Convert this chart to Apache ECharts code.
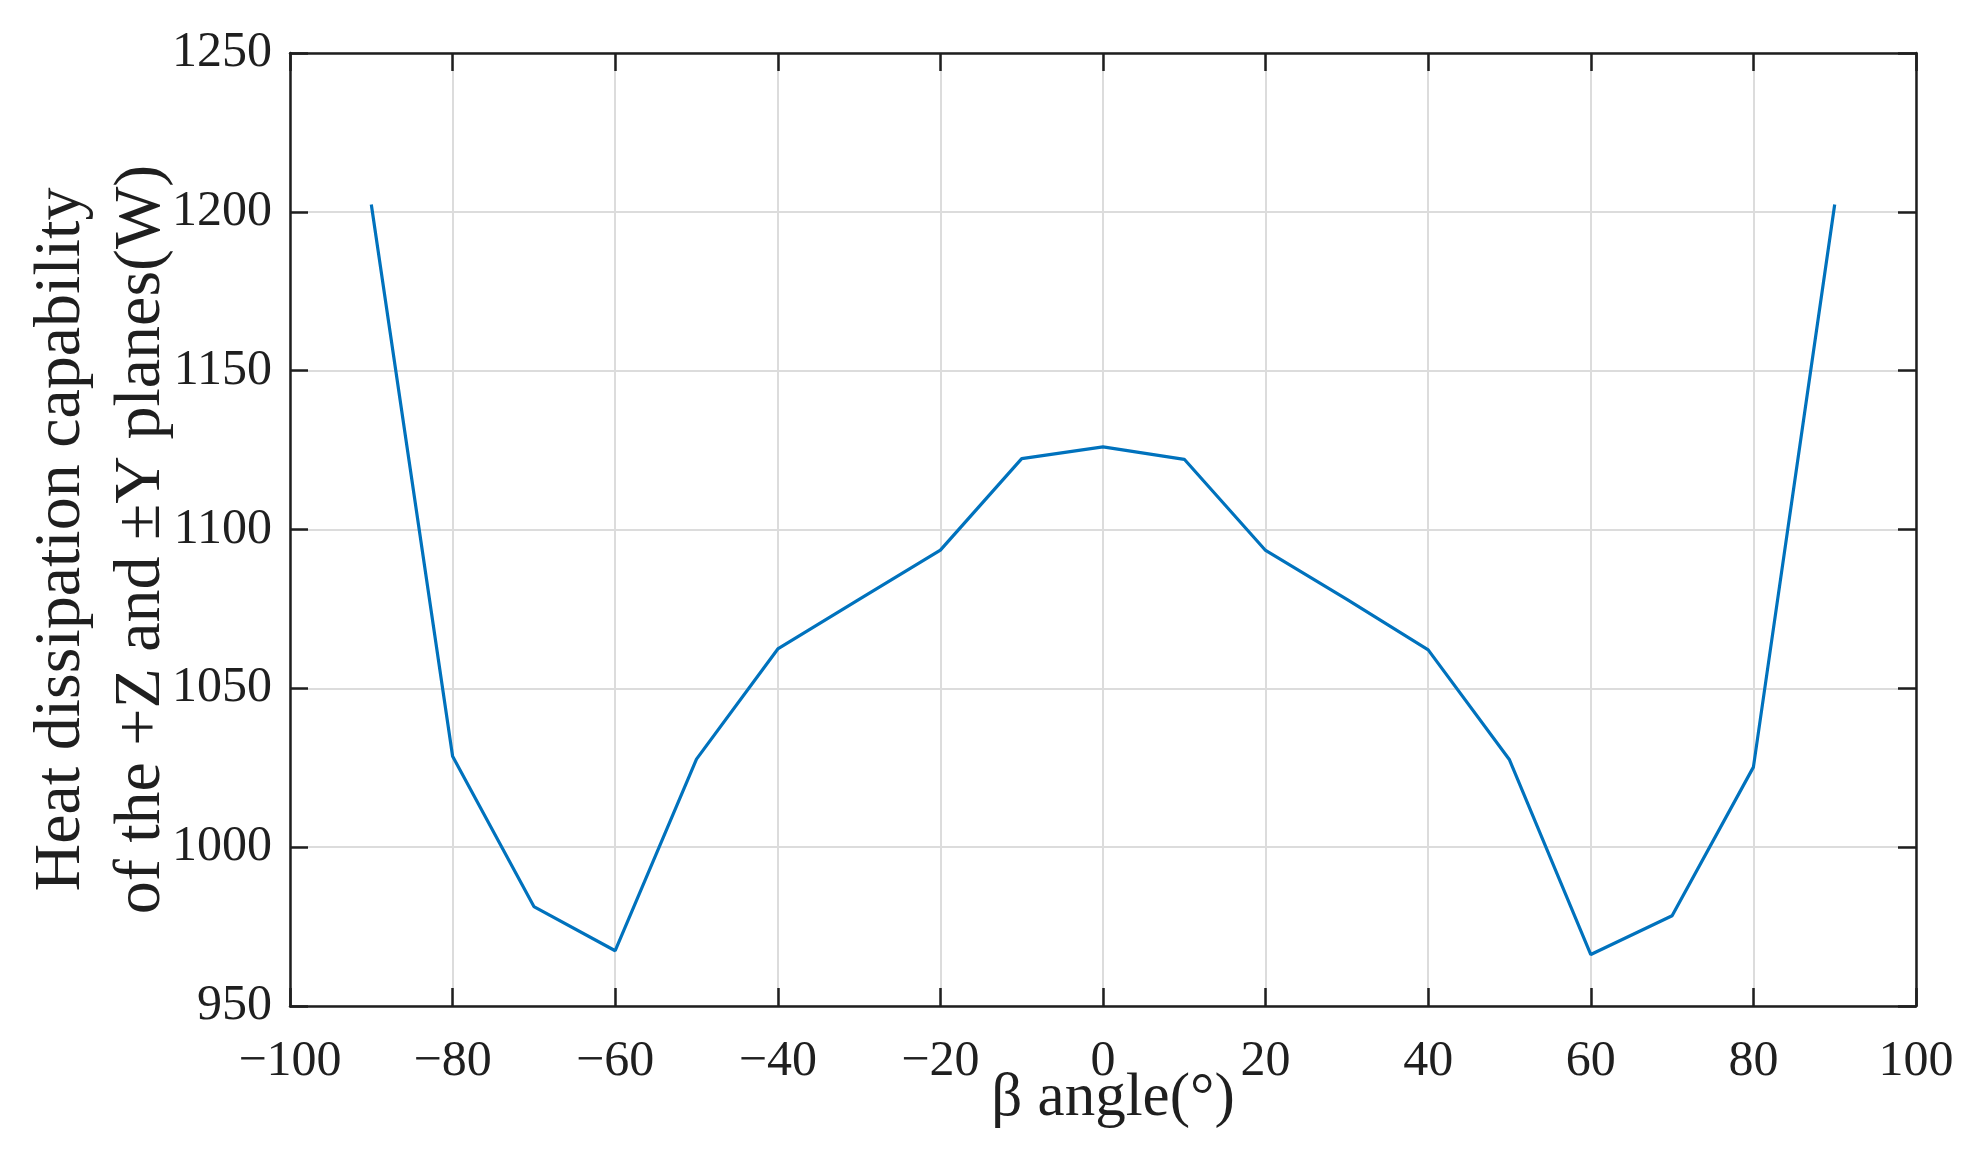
<!DOCTYPE html>
<html><head><meta charset="utf-8">
<script src="https://cdn.jsdelivr.net/npm/echarts@6/dist/echarts.min.js"></script>
<style>html,body{margin:0;padding:0;background:#fff}#c{width:1980px;height:1160px}</style>
</head><body><div id="c"></div>
<script>
const betaAngles = [-90,-80,-70,-60,-50,-40,-30,-20,-10,0,10,20,30,40,50,60,70,80,90];
const heatDissipation = [1202.3,1028.6,981.3,967.4,1027.7,1062.4,1078,1093.5,1122.3,1126.0,1122.1,1093.4,1078,1062.1,1027.5,966.2,978.4,1025.2,1202.3];
const xTicks = {min:-100,max:100,interval:20};
const yTicks = {min:950,max:1250,interval:50};
const xLabel = 'β angle(°)';
const yLabel = 'Heat dissipation capability\nof the +Z and ±Y planes(W)';

const FONT = '"Liberation Serif", "DejaVu Serif", serif';
const INK = '#1f1f1f';
const minusFmt = v => String(v).replace('-', '\u2212');
const chart = echarts.init(document.getElementById('c'), null, {renderer:'canvas'});
const baseTick = {show:true, inside:true, length:18, lineStyle:{color:INK, width:2.5}};
const axLine = {show:true, onZero:false, lineStyle:{color:INK, width:2.5}};
chart.setOption({
  animation:false,
  backgroundColor:'#fff',
  grid:{left:290, right:64, top:53, bottom:154, containLabel:false, outerBoundsMode:'none'},
  xAxis:[{
    type:'value', min:xTicks.min, max:xTicks.max, interval:xTicks.interval,
    position:'bottom', axisLine:axLine, axisTick:baseTick,
    axisLabel:{color:INK, fontFamily:FONT, fontSize:50, margin:31, formatter:minusFmt},
    splitLine:{show:true, lineStyle:{color:'#dcdcdc', width:2}},
    name:xLabel, nameLocation:'middle', nameGap:62, nameMoveOverlap:false,
    nameTextStyle:{color:INK, fontFamily:FONT, fontSize:61, padding:[0,0,0,20]}
  },{
    type:'value', min:xTicks.min, max:xTicks.max, interval:xTicks.interval,
    position:'top', axisLine:axLine, axisTick:baseTick, axisLabel:{show:false}, splitLine:{show:false}
  }],
  yAxis:[{
    type:'value', min:yTicks.min, max:yTicks.max, interval:yTicks.interval,
    position:'left', axisLine:axLine, axisTick:baseTick,
    axisLabel:{color:INK, fontFamily:FONT, fontSize:50, margin:18, padding:[10,0,0,0], formatter:v=>String(v)},
    splitLine:{show:true, lineStyle:{color:'#dcdcdc', width:2}},
    name:yLabel, nameLocation:'middle', nameGap:108, nameRotate:90, nameMoveOverlap:false,
    nameTextStyle:{color:INK, fontFamily:FONT, fontSize:66, lineHeight:80, align:'center', padding:[0,20,0,0]}
  },{
    type:'value', min:yTicks.min, max:yTicks.max, interval:yTicks.interval,
    position:'right', axisLine:axLine, axisTick:baseTick, axisLabel:{show:false}, splitLine:{show:false}
  }],
  series:[{
    type:'line', data:betaAngles.map((b,i)=>[b, heatDissipation[i]]),
    showSymbol:false, symbol:'none', lineStyle:{color:'#0072BD', width:3.2}, itemStyle:{color:'#0072BD'}
  }]
});
</script></body></html>
